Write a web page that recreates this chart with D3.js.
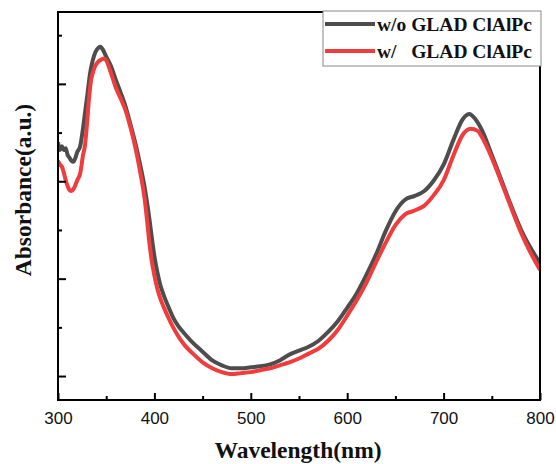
<!DOCTYPE html>
<html><head><meta charset="utf-8">
<script src="https://cdn.jsdelivr.net/npm/d3@7"></script>
<style>body{margin:0;background:#fff}svg{display:block}</style>
</head><body>
<svg id="c" width="556" height="464"></svg>
<script>
const wavelengthGray = [300,302,304,306,308,310,312,314,316,318,320,323,326,328,331,333,336,339,342,344,346,350,355,360,365,370,375,380,385,390,395,398,400,403,406,410,415,420,425,430,440,450,460,470,480,490,500,510,520,530,540,550,560,570,580,590,600,610,620,630,640,650,660,670,680,690,700,710,720,727,730,740,750,760,770,780,790,800];
const absGray = [3.40,3.32,3.36,3.32,3.34,3.27,3.24,3.21,3.20,3.24,3.30,3.36,3.55,3.70,3.93,4.09,4.24,4.33,4.37,4.38,4.36,4.28,4.18,4.04,3.91,3.77,3.59,3.40,3.18,2.93,2.60,2.37,2.23,2.07,1.94,1.82,1.70,1.59,1.51,1.45,1.34,1.25,1.16,1.11,1.08,1.08,1.09,1.10,1.12,1.16,1.22,1.26,1.30,1.36,1.45,1.56,1.70,1.85,2.04,2.25,2.49,2.69,2.81,2.85,2.90,3.01,3.17,3.42,3.64,3.69,3.67,3.52,3.27,3.01,2.75,2.51,2.32,2.16];
const wavelengthRed = [300,302,304,306,308,310,312,314,316,318,320,323,326,328,330,332,334,336,338,341,345,348,350,355,360,365,370,375,380,385,390,393,395,397,400,403,406,410,415,420,426,432,440,450,460,470,480,490,500,510,520,530,540,550,560,570,580,590,600,610,620,630,640,650,660,670,680,690,700,710,720,728,735,740,750,760,770,780,790,800];
const absRed = [3.21,3.17,3.15,3.09,3.01,2.95,2.91,2.90,2.92,2.96,3.01,3.08,3.27,3.37,3.58,3.83,4.02,4.11,4.17,4.22,4.25,4.26,4.24,4.11,3.96,3.85,3.73,3.56,3.36,3.11,2.81,2.54,2.35,2.20,2.03,1.90,1.80,1.70,1.59,1.49,1.39,1.31,1.23,1.14,1.08,1.04,1.02,1.03,1.04,1.06,1.08,1.11,1.14,1.18,1.23,1.28,1.36,1.47,1.62,1.78,1.96,2.17,2.37,2.55,2.66,2.70,2.75,2.86,3.01,3.26,3.48,3.54,3.52,3.45,3.24,2.99,2.73,2.48,2.27,2.09];
const seriesNames = ["w/o GLAD ClAlPc", "w/   GLAD ClAlPc"];
const seriesColors = ["#4d4d4d", "#f03c3c"];
const xMajorTicks = [300,400,500,600,700,800];
const xMinorTicks = [350,450,550,650,750];
const yMajorTicks = [1,2,3,4];
const yMinorTicks = [1.5,2.5,3.5,4.5];

const svg = d3.select("#c");
const L=58, R=540, T=12, B=400;
const x = d3.scaleLinear().domain([300,800]).range([L,R]);
const y = d3.scaleLinear().domain([0.754,4.738]).range([B,T]);

svg.append("clipPath").attr("id","pc").append("rect").attr("x",L).attr("y",T).attr("width",R-L).attr("height",B-T);
const line = d3.line().x(d=>x(d[0])).y(d=>y(d[1])).curve(d3.curveMonotoneX);
const sets = [wavelengthGray.map((w,i)=>[w,absGray[i]]), wavelengthRed.map((w,i)=>[w,absRed[i]])];
sets.forEach((s,i)=>{
  svg.append("path").datum(s).attr("d",line).attr("fill","none")
    .attr("stroke",seriesColors[i]).attr("stroke-width",4).attr("stroke-linejoin","round")
    .attr("clip-path","url(#pc)");
});

// frame
svg.append("rect").attr("x",L).attr("y",T).attr("width",R-L).attr("height",B-T)
  .attr("fill","none").attr("stroke","#000").attr("stroke-width",2);

// axes
const xa = svg.append("g").attr("transform",`translate(0,${B})`)
  .call(d3.axisBottom(x).tickValues(xMajorTicks).tickSizeInner(-7).tickSizeOuter(0).tickPadding(12).tickFormat(d3.format("d")));
xa.select(".domain").remove();
xa.selectAll("line").attr("stroke-width",2);
xa.selectAll("text").attr("font-family","Liberation Sans, Arial, sans-serif").attr("font-size",17).attr("fill","#111");
const xm = svg.append("g").attr("transform",`translate(0,${B})`)
  .call(d3.axisBottom(x).tickValues(xMinorTicks).tickSizeInner(-4).tickSizeOuter(0).tickFormat(""));
xm.select(".domain").remove(); xm.selectAll("line").attr("stroke-width",2);

const ya = svg.append("g").attr("transform",`translate(${L},0)`)
  .call(d3.axisLeft(y).tickValues(yMajorTicks).tickSizeInner(-8).tickSizeOuter(0).tickFormat(""));
ya.select(".domain").remove(); ya.selectAll("line").attr("stroke-width",2);
const ym = svg.append("g").attr("transform",`translate(${L},0)`)
  .call(d3.axisLeft(y).tickValues(yMinorTicks).tickSizeInner(-4).tickSizeOuter(0).tickFormat(""));
ym.select(".domain").remove(); ym.selectAll("line").attr("stroke-width",2);

// titles
svg.append("text").attr("x",298).attr("y",458).attr("text-anchor","middle")
  .attr("font-family","Liberation Serif, Times New Roman, serif").attr("font-weight","bold").attr("font-size",23.5)
  .attr("fill","#111").text("Wavelength(nm)");
svg.append("text").attr("transform","translate(31,190) rotate(-90)").attr("text-anchor","middle")
  .attr("font-family","Liberation Serif, Times New Roman, serif").attr("font-weight","bold").attr("font-size",23.5)
  .attr("fill","#111").text("Absorbance(a.u.)");

// legend
const lg = svg.append("g");
lg.append("rect").attr("x",323).attr("y",11).attr("width",218).attr("height",55)
  .attr("fill","#fff").attr("stroke","#888").attr("stroke-width",1);
seriesNames.forEach((n,i)=>{
  const yy = 24 + i*27;
  lg.append("line").attr("x1",325).attr("x2",375).attr("y1",yy).attr("y2",yy)
    .attr("stroke",seriesColors[i]).attr("stroke-width",4);
  lg.append("text").attr("x",377).attr("y",yy+6.5).attr("xml:space","preserve").style("white-space","pre")
    .attr("font-family","Liberation Serif, Times New Roman, serif").attr("font-weight","bold").attr("font-size",19.5)
    .attr("fill","#111").text(n);
});
</script>
</body></html>
